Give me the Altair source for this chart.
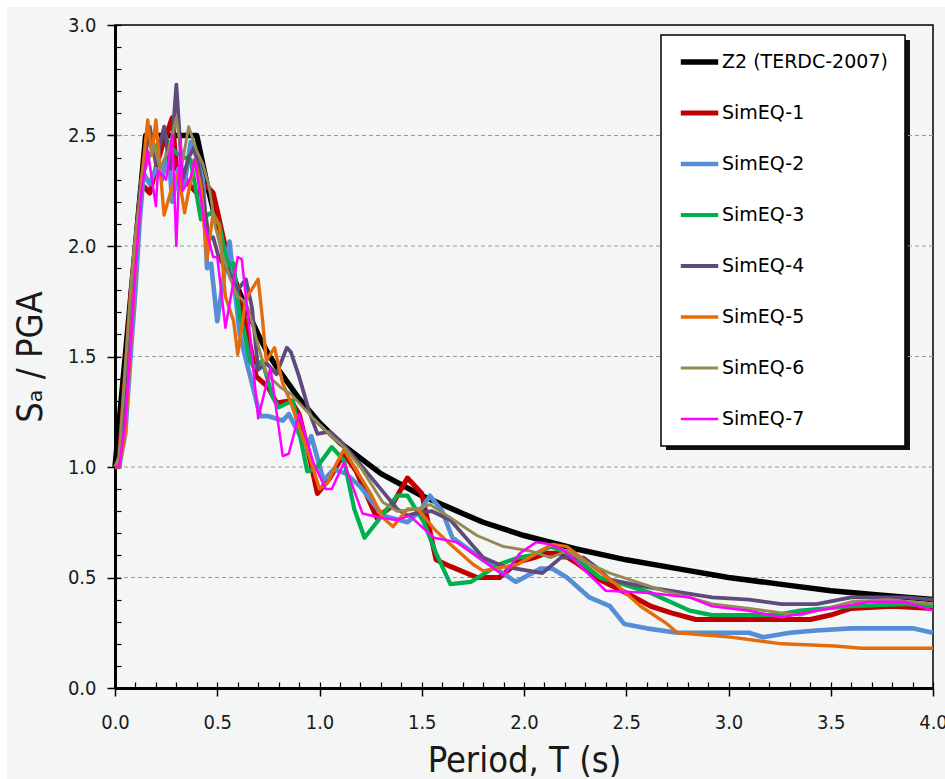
import altair as alt
import pandas as pd

names = ["Z2 (TERDC-2007)", "SimEQ-1", "SimEQ-2", "SimEQ-3", "SimEQ-4", "SimEQ-5", "SimEQ-6", "SimEQ-7"]
colors = ["#000000", "#c00000", "#558ed5", "#00b050", "#604a7b", "#e46c0a", "#948a54", "#ff00ff"]
widths = [5.5, 2.5, 2.5, 2.5, 2.5, 2.5, 2.5, 1.3]

z2_T = [0, 0.15, 0.2, 0.3, 0.4, 0.45, 0.5, 0.55, 0.6, 0.65, 0.7, 0.75, 0.8, 0.9, 1.0, 1.1, 1.2, 1.3, 1.4, 1.5,
        1.6, 1.7, 1.8, 1.9, 2.0, 2.25, 2.5, 2.75, 3.0, 3.25, 3.5, 3.75, 4.0]
z2_S = [1.0, 2.5, 2.5, 2.5, 2.5, 2.28, 2.09, 1.94, 1.81, 1.70, 1.60, 1.51, 1.44, 1.31, 1.20, 1.11, 1.04, 0.97, 0.92, 0.87,
        0.83, 0.79, 0.75, 0.72, 0.69, 0.63, 0.58, 0.54, 0.50, 0.47, 0.44, 0.42, 0.40]

s1_T = [0, 0.02, 0.05, 0.08, 0.1, 0.125, 0.14, 0.17, 0.2, 0.23, 0.25, 0.28, 0.3, 0.33, 0.36, 0.4, 0.45, 0.48, 0.5, 0.55,
        0.6, 0.65, 0.69, 0.75, 0.79, 0.86, 0.9, 0.94, 0.99, 1.05, 1.12, 1.18, 1.28, 1.35, 1.43, 1.5, 1.57, 1.64, 1.77, 1.88,
        1.97, 2.05, 2.11, 2.18, 2.25, 2.37, 2.5, 2.62, 2.72, 2.84, 3.0, 3.2, 3.4, 3.5, 3.6, 3.8, 4.0]
s1_S = [1.0, 1.02, 1.4, 1.8, 2.0, 2.25, 2.27, 2.24, 2.35, 2.45, 2.5, 2.58, 2.35, 2.32, 2.28, 2.24, 2.27, 2.24, 2.16, 1.95,
        1.8, 1.6, 1.41, 1.36, 1.29, 1.30, 1.24, 1.09, 0.88, 0.95, 1.06, 0.98, 0.77, 0.82, 0.95, 0.88, 0.58, 0.55, 0.50, 0.50,
        0.57, 0.59, 0.61, 0.61, 0.57, 0.49, 0.43, 0.37, 0.34, 0.31, 0.31, 0.31, 0.31, 0.33, 0.36, 0.37, 0.36]

s2_T = [0, 0.02, 0.05, 0.08, 0.1, 0.12, 0.14, 0.17, 0.2, 0.23, 0.26, 0.28, 0.31, 0.34, 0.37, 0.4, 0.43, 0.45, 0.47, 0.5,
        0.53, 0.56, 0.61, 0.65, 0.71, 0.75, 0.82, 0.85, 0.9, 0.94, 0.96, 1.02, 1.07, 1.13, 1.2, 1.31, 1.43, 1.49, 1.54, 1.6,
        1.65, 1.8, 1.96, 2.08, 2.14, 2.21, 2.32, 2.42, 2.49, 2.6, 2.75, 3.0, 3.1, 3.17, 3.3, 3.43, 3.6, 3.78, 3.9, 4.0]
s2_S = [1.0, 1.0, 1.15, 1.55, 1.8, 2.1, 2.33, 2.28, 2.35, 2.3, 2.45, 2.2, 2.35, 2.28, 2.47, 2.4, 2.3, 1.9, 1.92, 1.66,
        1.85, 2.02, 1.6, 1.45, 1.23, 1.23, 1.21, 1.24, 1.15, 1.09, 1.14, 0.94, 0.99, 0.97, 0.91, 0.78, 0.75, 0.8, 0.87, 0.8,
        0.68, 0.58, 0.48, 0.54, 0.54, 0.5, 0.41, 0.37, 0.29, 0.27, 0.25, 0.25, 0.25, 0.23, 0.25, 0.26, 0.27, 0.27, 0.27, 0.25]

s3_T = [0, 0.02, 0.05, 0.08, 0.1, 0.13, 0.16, 0.2, 0.24, 0.27, 0.3, 0.34, 0.37, 0.42, 0.47, 0.51, 0.55, 0.58, 0.61, 0.63,
        0.66, 0.68, 0.72, 0.77, 0.8, 0.87, 0.94, 0.98, 1.06, 1.12, 1.17, 1.22, 1.28, 1.38, 1.43, 1.51, 1.57, 1.64, 1.74, 1.88,
        1.97, 2.04, 2.13, 2.19, 2.29, 2.37, 2.45, 2.62, 2.81, 2.92, 3.1, 3.23, 3.35, 3.6, 3.86, 4.0]
s3_S = [1.0, 1.0, 1.3, 1.7, 2.0, 2.3, 2.4, 2.45, 2.51, 2.45, 2.42, 2.4, 2.39, 2.12, 2.15, 2.1, 1.91, 1.92, 1.68, 1.62,
        1.48, 1.45, 1.48, 1.32, 1.27, 1.30, 0.98, 0.99, 1.09, 1.03, 0.81, 0.68, 0.75, 0.87, 0.87, 0.75, 0.61, 0.47, 0.48, 0.56,
        0.59, 0.60, 0.64, 0.62, 0.56, 0.50, 0.48, 0.43, 0.35, 0.33, 0.33, 0.33, 0.35, 0.37, 0.38, 0.37]

s4_T = [0, 0.02, 0.05, 0.08, 0.1, 0.13, 0.17, 0.2, 0.24, 0.27, 0.3, 0.33, 0.36, 0.39, 0.42, 0.46, 0.48, 0.51, 0.56, 0.6,
        0.64, 0.67, 0.7, 0.74, 0.79, 0.84, 0.86, 0.9, 0.95, 0.99, 1.05, 1.1, 1.21, 1.3, 1.38, 1.43, 1.47, 1.55, 1.64, 1.8,
        1.9, 2.09, 2.18, 2.29, 2.35, 2.42, 2.58, 2.92, 3.1, 3.26, 3.43, 3.6, 3.86, 4.0]
s4_S = [1.0, 1.0, 1.3, 1.7, 2.0, 2.3, 2.54, 2.37, 2.54, 2.35, 2.73, 2.3, 2.4, 2.45, 2.3, 2.03, 2.04, 1.94, 1.88, 1.8,
        1.85, 1.72, 1.44, 1.47, 1.42, 1.54, 1.52, 1.41, 1.25, 1.15, 1.16, 1.12, 1.0, 0.90, 0.81, 0.78, 0.79, 0.80, 0.76, 0.59,
        0.55, 0.52, 0.59, 0.59, 0.55, 0.49, 0.46, 0.41, 0.40, 0.38, 0.38, 0.41, 0.41, 0.40]

s5_T = [0, 0.02, 0.05, 0.08, 0.1, 0.13, 0.16, 0.18, 0.2, 0.24, 0.28, 0.31, 0.34, 0.39, 0.42, 0.45, 0.48, 0.51, 0.54, 0.58,
        0.6, 0.64, 0.7, 0.72, 0.74, 0.78, 0.82, 0.86, 0.95, 1.0, 1.04, 1.08, 1.12, 1.17, 1.25, 1.31, 1.36, 1.43, 1.48, 1.56,
        1.64, 1.75, 1.8, 1.97, 2.08, 2.14, 2.21, 2.32, 2.45, 2.57, 2.7, 2.75, 3.01, 3.26, 3.52, 3.65, 4.0]
s5_S = [1.0, 1.0, 1.15, 1.6, 1.9, 2.3, 2.57, 2.41, 2.57, 2.14, 2.27, 2.33, 2.15, 2.39, 2.27, 1.94, 2.15, 2.09, 1.77, 1.66,
        1.51, 1.76, 1.85, 1.68, 1.48, 1.54, 1.38, 1.29, 1.05, 0.90, 0.93, 1.01, 1.08, 1.0, 0.88, 0.77, 0.73, 0.81, 0.81, 0.72,
        0.65, 0.56, 0.53, 0.56, 0.62, 0.65, 0.64, 0.56, 0.47, 0.37, 0.29, 0.25, 0.23, 0.20, 0.19, 0.18, 0.18]

s6_T = [0, 0.02, 0.05, 0.08, 0.1, 0.14, 0.19, 0.22, 0.26, 0.3, 0.33, 0.36, 0.4, 0.43, 0.46, 0.49, 0.52, 0.56, 0.6, 0.62,
        0.65, 0.7, 0.74, 0.81, 0.86, 0.97, 1.07, 1.12, 1.2, 1.31, 1.38, 1.48, 1.54, 1.64, 1.77, 1.9, 2.03, 2.13, 2.21, 2.3,
        2.42, 2.55, 2.68, 2.81, 2.92, 3.1, 3.26, 3.35, 3.6, 3.78, 4.0]
s6_S = [1.0, 1.05, 1.45, 1.85, 2.05, 2.33, 2.46, 2.35, 2.43, 2.58, 2.38, 2.54, 2.43, 2.37, 2.27, 2.09, 1.98, 1.86, 1.77, 1.76,
        1.72, 1.55, 1.42, 1.36, 1.33, 1.22, 1.13, 1.09, 1.0, 0.84, 0.80, 0.81, 0.83, 0.77, 0.69, 0.64, 0.62, 0.59, 0.62, 0.57,
        0.52, 0.48, 0.44, 0.41, 0.38, 0.36, 0.34, 0.33, 0.39, 0.40, 0.38]

s7_T = [0, 0.02, 0.05, 0.08, 0.1, 0.13, 0.16, 0.2, 0.21, 0.25, 0.28, 0.3, 0.32, 0.33, 0.37, 0.39, 0.44, 0.48, 0.5, 0.54,
        0.6, 0.62, 0.66, 0.7, 0.76, 0.82, 0.85, 0.9, 0.97, 1.03, 1.06, 1.12, 1.21, 1.3, 1.38, 1.44, 1.56, 1.67, 1.78, 1.9,
        1.98, 2.06, 2.13, 2.2, 2.4, 2.62, 2.81, 2.92, 3.1, 3.26, 3.43, 3.69, 3.86, 4.0]
s7_S = [1.0, 1.0, 1.2, 1.6, 1.9, 2.25, 2.43, 2.18, 2.34, 2.30, 2.5, 2.0, 2.49, 2.25, 2.31, 2.39, 2.09, 1.95, 1.95, 1.63,
        1.95, 1.94, 1.6, 1.22, 1.45, 1.05, 1.06, 1.24, 1.02, 0.90, 0.90, 1.02, 0.79, 0.77, 0.76, 0.78, 0.68, 0.66, 0.59, 0.51,
        0.61, 0.66, 0.65, 0.62, 0.44, 0.43, 0.41, 0.37, 0.35, 0.32, 0.35, 0.39, 0.39, 0.35]

x_major = [0.0, 0.5, 1.0, 1.5, 2.0, 2.5, 3.0, 3.5, 4.0]
x_minor = [round(i * 0.1, 1) for i in range(41)]
y_major = [0.0, 0.5, 1.0, 1.5, 2.0, 2.5, 3.0]
y_minor = [round(i * 0.1, 1) for i in range(31)]
grid_vals = [0.5, 1.0, 1.5, 2.0, 2.5]

series = [(z2_T, z2_S), (s1_T, s1_S), (s2_T, s2_S), (s3_T, s3_S), (s4_T, s4_S), (s5_T, s5_S), (s6_T, s6_S), (s7_T, s7_S)]
rows = []
for name, (ts, ss) in zip(names, series):
    for i, (t, s) in enumerate(zip(ts, ss)):
        rows.append({"series": name, "T": t, "S": s, "i": i})
df = pd.DataFrame(rows)

LABEL_FONT = "DejaVu Sans Condensed, Liberation Sans Narrow, sans-serif"
LEG_FONT = "DejaVu Sans, Verdana, sans-serif"
BG = "#f4f6f5"

xscale = alt.Scale(domain=[0, 4], nice=False, zero=False)
yscale = alt.Scale(domain=[0, 3], nice=False, zero=False)

one = pd.DataFrame({"k": [0]})
# white page margins at the top and left edges
edge_left = alt.Chart(one).mark_rect(color="white").encode(
    x=alt.value(-115), x2=alt.value(-108), y=alt.value(-25), y2=alt.value(754))
edge_top = alt.Chart(one).mark_rect(color="white").encode(
    x=alt.value(-115), x2=alt.value(830), y=alt.value(-25), y2=alt.value(-18))
# drop shadow behind the legend box
shadow = alt.Chart(one).mark_rect(color="#111111").encode(
    x=alt.value(551), x2=alt.value(795), y=alt.value(15), y2=alt.value(425))

grid = alt.Chart(pd.DataFrame({"g": grid_vals})).mark_rule(
    color="#9a9a9a", strokeDash=[4, 3], strokeWidth=1
).encode(y=alt.Y("g:Q", scale=yscale, axis=None))

leg = alt.Legend(
    title=None, orient="none", legendX=546, legendY=10,
    fillColor="white", strokeColor="black",
    padding=17, rowPadding=31, clipHeight=20, labelFontSize=19, labelFont=LEG_FONT, labelColor="black",
    symbolType="stroke", symbolSize=1400, labelOffset=1, labelLimit=400,
)

lines = alt.Chart(df).mark_line(strokeJoin="round").encode(
    x=alt.X("T:Q", scale=xscale, axis=alt.Axis(
        values=x_major, format=".1f", title="Period, T (s)", tickSize=8, tickWidth=1.5, tickColor="black",
        domainWidth=3, domainColor="black", labelFontSize=20, labelFont=LABEL_FONT, labelColor="#1a1a1a",
        labelPadding=16, labelFlush=False, titleFontSize=36, titleFont=LABEL_FONT, titleFontWeight="normal",
        titleColor="#1a1a1a", titlePadding=11, grid=False, orient="bottom")),
    y=alt.Y("S:Q", scale=yscale, axis=alt.Axis(
        values=y_major, format=".1f", title="Sₐ / PGA", tickSize=8, tickWidth=1.5, tickColor="black",
        domainWidth=3, domainColor="black", labelFontSize=20, labelFont=LABEL_FONT, labelColor="#1a1a1a",
        labelPadding=11, labelFlush=False, titleFontSize=36, titleFont=LABEL_FONT, titleFontWeight="normal",
        titleColor="#1a1a1a", titlePadding=18, grid=False, orient="left")),
    color=alt.Color("series:N", scale=alt.Scale(domain=names, range=colors), legend=leg),
    strokeWidth=alt.StrokeWidth("series:N", scale=alt.Scale(domain=names, range=widths), legend=leg),
    order="i:Q",
)

minor_df = pd.DataFrame({"mx": x_minor[:31], "my": y_minor})
minor = alt.Chart(minor_df).mark_point(opacity=0).encode(
    x=alt.X("mx:Q", scale=xscale, axis=alt.Axis(
        values=x_minor, orient="bottom", offset=-6, tickSize=6, tickWidth=1.2, tickColor="black",
        labels=False, domain=False, title=None, grid=False)),
    y=alt.Y("my:Q", scale=yscale, axis=alt.Axis(
        values=y_minor, orient="left", offset=-6, tickSize=6, tickWidth=1.2, tickColor="black",
        labels=False, domain=False, title=None, grid=False)),
)

chart = alt.layer(edge_left, edge_top, shadow, grid, minor, lines).resolve_axis(
    x="independent", y="independent"
).properties(
    width=818, height=663,
    autosize=alt.AutoSizeParams(type="none"),
    padding={"left": 115, "top": 25, "right": 12, "bottom": 91},
    background=BG,
).configure_view(stroke="black", strokeWidth=1.5, fill=BG).configure_legend(strokeWidth=1.5)

chart.save("out.html", embed_options={"renderer": "svg", "actions": False})
